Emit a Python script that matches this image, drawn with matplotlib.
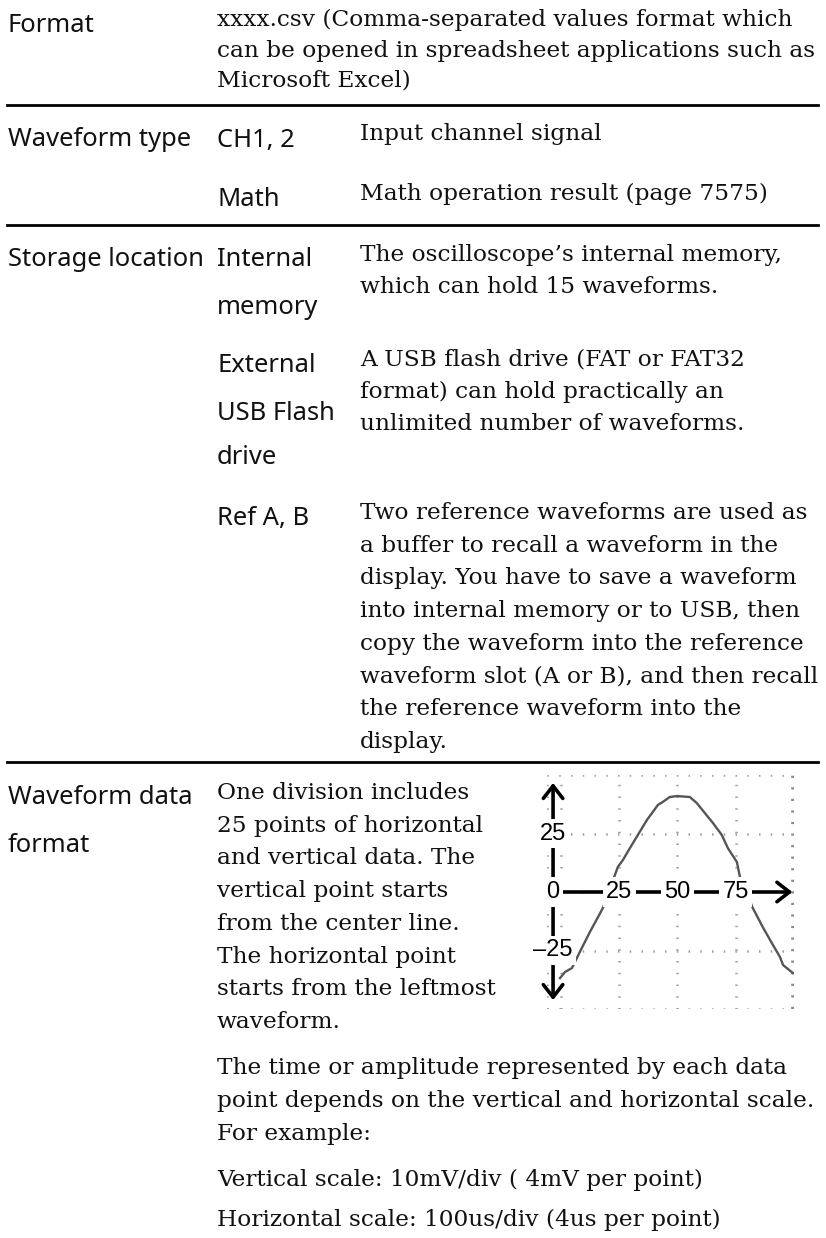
import matplotlib
matplotlib.use("Agg")
import matplotlib.pyplot as plt
from matplotlib.lines import Line2D

W, H = 826, 1238
SERIF = "DejaVu Serif"
SANS = "Noto Sans"

# waveform trace (x: points, y: points)
wave_x = [-0.4, 1.7, 4.7, 8.1, 12.4, 15.9, 18.0, 24.4, 26.6, 29.6, 33.0, 36.9, 41.6,
          43.7, 46.7, 49.7, 55.3, 58.3, 61.7, 65.2, 69.0, 71.6, 75.5, 76.8, 82.3,
          86.6, 91.0, 94.0, 95.3, 99.5]
wave_y = [-36.8, -34.2, -32.5, -25.6, -17.1, -10.7, -6.8, 10.7, 13.7, 18.8, 24.4, 30.8,
          37.2, 38.5, 40.6, 41.0, 40.6, 38.0, 33.8, 29.5, 24.4, 18.8, 12.8, 6.4, -6.8,
          -15.0, -22.7, -27.8, -31.2, -34.6]
h_ticks = [25, 50, 75]
v_ticks = [25, 0, -25]
v_labels = ["25", "0", "\u201325"]

# table text: (text, y position of line in px)
col1 = [("Format", 25), ("Waveform type", 140), ("Storage location", 260),
        ("Waveform data", 798), ("format", 845)]
col2_sans = [("CH1, 2", 140), ("Math", 200), ("Internal", 260), ("memory", 307),
             ("External", 365), ("USB Flash", 413), ("drive", 458), ("Ref A, B", 518)]
format_lines = ["xxxx.csv (Comma-separated values format which",
                "can be opened in spreadsheet applications such as",
                "Microsoft Excel)"]
col3 = [("Input channel signal", 134), ("Math operation result (page 7575)", 194),
        ("The oscilloscope\u2019s internal memory,", 255),
        ("which can hold 15 waveforms.", 287),
        ("A USB flash drive (FAT or FAT32", 360),
        ("format) can hold practically an", 392),
        ("unlimited number of waveforms.", 424)]
ref_lines = ["Two reference waveforms are used as",
             "a buffer to recall a waveform in the",
             "display. You have to save a waveform",
             "into internal memory or to USB, then",
             "copy the waveform into the reference",
             "waveform slot (A or B), and then recall",
             "the reference waveform into the",
             "display."]
data_lines = ["One division includes", "25 points of horizontal",
              "and vertical data. The", "vertical point starts",
              "from the center line.", "The horizontal point",
              "starts from the leftmost", "waveform."]
tail = [("The time or amplitude represented by each data", 1068),
        ("point depends on the vertical and horizontal scale.", 1101),
        ("For example:", 1134),
        ("Vertical scale: 10mV/div ( 4mV per point)", 1180),
        ("Horizontal scale: 100us/div (4us per point)", 1220)]
rules_y = [105, 225, 762]

fig = plt.figure(figsize=(W / 100, H / 100), dpi=100)
renderer = fig.canvas.get_renderer()


def fit_size(s, family, target):
    t = fig.text(0, 0, s, fontsize=10, family=family)
    w = t.get_window_extent(renderer).width
    t.remove()
    return 10 * target / w


serif_size = fit_size(format_lines[0], SERIF, 580)
sans_size = fit_size("Storage location", SANS, 196)


def put(x, y, s, family, size):
    fig.text(x / W, 1 - y / H, s, family=family, fontsize=size,
             ha="left", va="center", color="#111111")


for s, y in col1:
    put(8, y, s, SANS, sans_size)
for s, y in col2_sans:
    put(217, y, s, SANS, sans_size)
for i, s in enumerate(format_lines):
    put(217, 20 + 30.5 * i, s, SERIF, serif_size)
for s, y in col3:
    put(360, y, s, SERIF, serif_size)
for i, s in enumerate(ref_lines):
    put(360, 513 + 32.7 * i, s, SERIF, serif_size)
for i, s in enumerate(data_lines):
    put(217, 793 + 32.7 * i, s, SERIF, serif_size)
for s, y in tail:
    put(217, y, s, SERIF, serif_size)

for y in rules_y:
    fig.add_artist(Line2D([7 / W, 818 / W], [1 - y / H] * 2, lw=2, color="black"))

# scope picture
left, right, top, bottom = 547, 794, 775, 1009
ax = fig.add_axes([left / W, 1 - bottom / H, (right - left) / W, (bottom - top) / H])
ax.set_xlim(-6, 100)
ax.set_ylim(-50, 50)
ax.axis("off")

dot = dict(color="#a0a0a0", lw=1.8, linestyle=(0, (0.6, 4.1)), zorder=1)
for gx in [0] + h_ticks:
    ax.axvline(gx, **dot)
for gy in v_ticks:
    ax.axhline(gy, **dot)
ax.axhline(50, **dot)
ax.axhline(-50, **dot)
ax.axvline(-6, **dot)
ax.axvline(99.6, color="#8a8a8a", lw=2.6, linestyle=(0, (0.6, 2.6)), zorder=1)

ax.plot(wave_x, wave_y, color="#555555", lw=1.7, zorder=2)

arrow = dict(arrowstyle="->,head_length=0.45,head_width=0.35", lw=2.6, color="black",
             shrinkA=0, shrinkB=0, mutation_scale=20)
ax.annotate("", xy=(-3.4, 46.6), xytext=(-3.4, 0), arrowprops=arrow,
            annotation_clip=False, zorder=3)
ax.annotate("", xy=(-3.4, -46.2), xytext=(-3.4, 0), arrowprops=arrow,
            annotation_clip=False, zorder=3)
ax.annotate("", xy=(99.3, 0), xytext=(-3.4, 0), arrowprops=arrow,
            annotation_clip=False, zorder=3)

lab = dict(ha="center", va="center", fontsize=17, family="Liberation Sans", zorder=4,
           bbox=dict(fc="white", ec="none", pad=2.5))
for v, s in zip(v_ticks, v_labels):
    ax.text(-3.4, v, s, **lab)
for v in h_ticks:
    ax.text(v, 0, str(v), **lab)

fig.savefig("out.png", dpi=100)
